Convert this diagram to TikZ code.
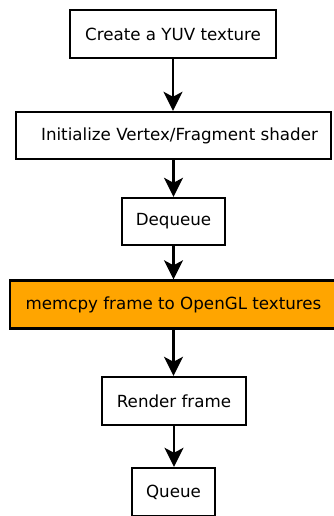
\documentclass[tikz,border=0pt]{standalone}
\usepackage{fontspec}
\setmainfont{DejaVu Sans}
\usetikzlibrary{arrows.meta}
\definecolor{boxorange}{RGB}{255,165,0}
\tikzset{
  stepbox/.style={draw=black, line width=2.4pt, fill=white, inner sep=0pt,
    font=\fontsize{16.7}{20}\selectfont, text=black},
  flow/.style={draw=black, line width=2.6pt,
    -{Stealth[length=19pt,width=19pt,inset=5pt]}}
}
\begin{document}
\begin{tikzpicture}[x=1pt,y=-1pt]
\useasboundingbox (0,0) rectangle (334,516);
\clip (0,0) rectangle (334,516);
\node[stepbox, minimum width=206pt, minimum height=48pt] (b1) at (173,34) {Create a YUV texture};
\node[stepbox, minimum width=315pt, minimum height=47pt] (b2) at (173.5,135.5) {\hspace{12pt}Initialize Vertex/Fragment shader};
\node[stepbox, minimum width=103pt, minimum height=47pt] (b3) at (173.5,221.5) {Dequeue};
\node[stepbox, fill=boxorange, minimum width=327pt, minimum height=48pt] (b4) at (173.5,304.5) {memcpy frame to OpenGL textures};
\node[stepbox, minimum width=144pt, minimum height=48pt] (b5) at (174,401) {Render frame};
\node[stepbox, minimum width=83pt, minimum height=48pt] (b6) at (173.5,492) {Queue};
\draw[flow] (b1.south) -- (b1.south |- b2.north);
\draw[flow] (b2.south) -- (b2.south |- b3.north);
\draw[flow] (b3.south) -- (b3.south |- b4.north);
\draw[flow] (b4.south) -- (b4.south |- b5.north);
\draw[flow] (b5.south) -- (b5.south |- b6.north);
\end{tikzpicture}
\end{document}
